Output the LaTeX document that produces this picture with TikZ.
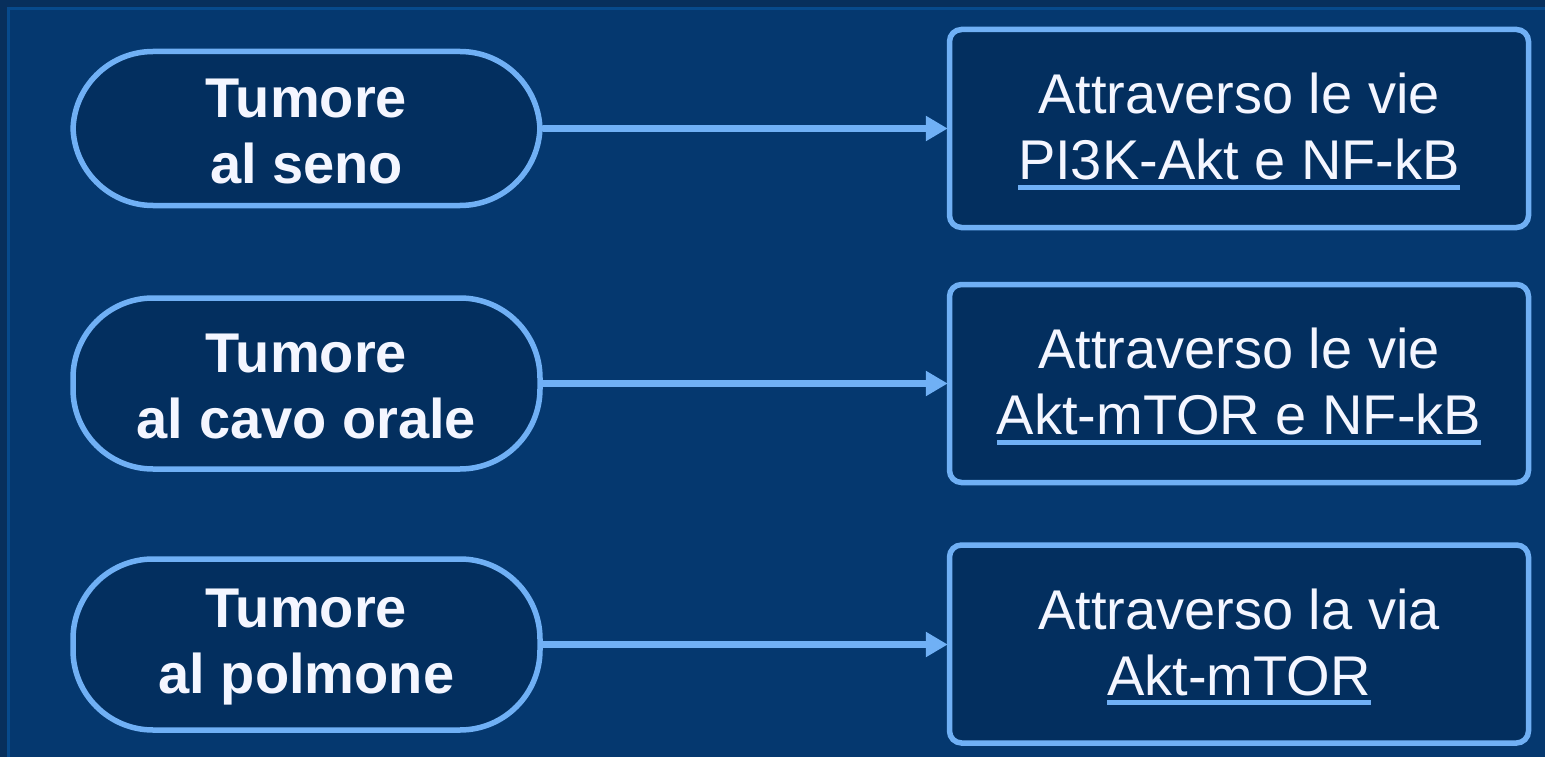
\documentclass[tikz,border=0pt]{standalone}
\usepackage{fontspec}
\setmainfont{Liberation Sans}
\usetikzlibrary{arrows.meta}
\definecolor{outerc}{HTML}{072F5C}
\definecolor{bandc}{HTML}{074A8C}
\definecolor{mainc}{HTML}{05386F}
\definecolor{fillc}{HTML}{032F5F}
\definecolor{linec}{HTML}{70B0F5}
\definecolor{textc}{HTML}{F4F6FF}
\newcommand\pul[1]{\setbox0\hbox{#1}\leavevmode\rlap{\textcolor{linec}{\rule[-10pt]{\wd0}{5pt}}}\box0}
\tikzset{
  stad/.style={draw=linec, fill=fillc, line width=5.5pt, rounded corners=80pt,
    minimum width=467pt, inner sep=0pt},
  pathbox/.style={draw=linec, fill=fillc, line width=5.5pt, rounded corners=12pt,
    minimum width=579pt, minimum height=198pt, inner sep=0pt},
  stadtxt/.style={text=textc, align=center, inner sep=0pt,
    font=\fontsize{56}{66}\selectfont\bfseries},
  pathtxt/.style={text=textc, align=center, inner sep=0pt,
    font=\fontsize{56}{66}\selectfont},
  conn/.style={draw=linec, line width=6.5pt, -{Triangle[length=22pt,width=24pt]}, shorten >=-1pt}
}
\begin{document}
\begin{tikzpicture}[x={(1pt,0)}, y={(0,-1pt)}]
\fill[outerc] (0,0) rectangle (1545,757);
\fill[bandc] (7,7) rectangle (1545,757);
\fill[mainc] (10,10) rectangle (1545,757);
\useasboundingbox (0,0) rectangle (1545,757);
\node[stad, minimum height=154pt] (s1) at (306.5,128.5) {};
\node[stad, minimum height=171pt] (s2) at (306.5,383.5) {};
\node[stad, minimum height=171pt] (s3) at (306.5,644.5) {};
\node[pathbox] (r1) at (1239,128.5) {};
\node[pathbox] (r2) at (1239,383.5) {};
\node[pathbox] (r3) at (1239,644) {};
\node[stadtxt] (t1) at ([yshift=-3pt]s1.center) {Tumore\\al seno};
\node[stadtxt] (t2) at ([yshift=-3pt]s2.center) {Tumore\\al cavo orale};
\node[stadtxt] (t3) at ([yshift=-3pt]s3.center) {Tumore\\al polmone};
\node[pathtxt] (u1) at ([yshift=-3pt]r1.center) {Attraverso le vie\\\pul{PI3K-Akt e NF-kB}};
\node[pathtxt] (u2) at ([yshift=-3pt]r2.center) {Attraverso le vie\\\pul{Akt-mTOR e NF-kB}};
\node[pathtxt] (u3) at ([yshift=-3pt]r3.center) {Attraverso la via\\\pul{Akt-mTOR}};
\draw[conn] (s1.east) -- (s1.east -| r1.west);
\draw[conn] (s2.east) -- (s2.east -| r2.west);
\draw[conn] (s3.east) -- (s3.east -| r3.west);
\end{tikzpicture}
\end{document}
